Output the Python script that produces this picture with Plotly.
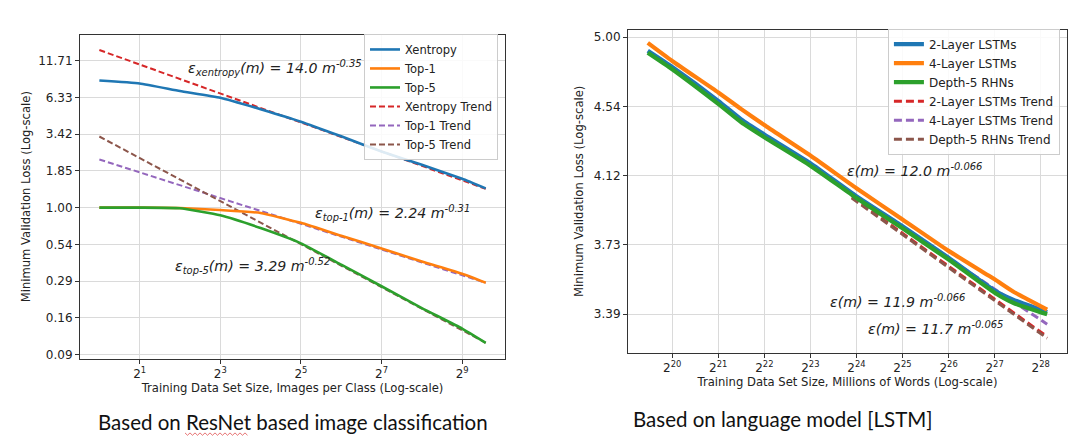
import plotly.graph_objects as go

# ---------------- Left chart (ResNet image classification) ----------------
img_per_class = [1, 2, 4, 8, 16, 32, 64, 128, 256, 512, 768]
xentropy = [8.4, 8.0, 7.05, 6.3, 5.2, 4.22, 3.3, 2.56, 2.05, 1.62, 1.38]
top1 = [1.0, 1.0, 0.995, 0.96, 0.915, 0.775, 0.625, 0.505, 0.405, 0.33, 0.284]
top5 = [1.0, 1.0, 0.99, 0.88, 0.71, 0.55, 0.385, 0.268, 0.186, 0.132, 0.104]
trend_x_left = [1, 768]
xent_trend = [14.0, 1.37]
top1_trend = [2.24, 0.284]
top5_trend = [3.29, 0.104]

left_xtick_vals = [2, 8, 32, 128, 512]
left_xtick_text = ["2<sup>1</sup>", "2<sup>3</sup>", "2<sup>5</sup>", "2<sup>7</sup>", "2<sup>9</sup>"]
left_ytick_vals = [11.71, 6.33, 3.42, 1.849, 1.0, 0.5405, 0.2922, 0.158, 0.0854]
left_ytick_text = ["11.71", "6.33", "3.42", "1.85", "1.00", "0.54", "0.29", "0.16", "0.09"]

# ---------------- Right chart (LSTM language model) ----------------
words_log2 = [19.47, 20, 21, 21.5, 22, 23, 24, 25, 26, 27, 27.4, 28.14]
words = [2 ** e for e in words_log2]
lstm2 = [4.905, 4.795, 4.573, 4.455, 4.362, 4.19, 4.0, 3.835, 3.67, 3.505, 3.46, 3.40]
lstm4 = [4.96, 4.836, 4.627, 4.52, 4.42, 4.235, 4.045, 3.872, 3.705, 3.56, 3.50, 3.412]
rhn5 = [4.892, 4.78, 4.553, 4.437, 4.345, 4.175, 3.99, 3.824, 3.66, 3.494, 3.445, 3.39]
trend_x_right = [2 ** 23.9, words[-1]]
lstm2_trend = [3.995, 3.285]
lstm4_trend = [4.015, 3.343]
rhn5_trend = [3.99, 3.278]

right_xtick_vals = [2 ** e for e in range(20, 29)]
right_xtick_text = ["2<sup>%d</sup>" % e for e in range(20, 29)]
right_ytick_vals = [5.0, 4.537, 4.117, 3.736, 3.390]
right_ytick_text = ["5.00", "4.54", "4.12", "3.73", "3.39"]

C_BLUE, C_ORANGE, C_GREEN = "#1f77b4", "#ff7f0e", "#2ca02c"
C_RED, C_PURPLE, C_BROWN = "#d62728", "#9467bd", "#8c564b"
FONT = "DejaVu Sans"

fig = go.Figure()

# left trends (drawn beneath the solid curves)
for name, vals, col, rank in [("Xentropy Trend", xent_trend, C_RED, 4),
                              ("Top-1 Trend", top1_trend, C_PURPLE, 5),
                              ("Top-5 Trend", top5_trend, C_BROWN, 6)]:
    fig.add_trace(go.Scatter(x=trend_x_left, y=vals, mode="lines", name=name,
                             line=dict(color=col, width=2, dash="6px,3px"),
                             xaxis="x", yaxis="y", legend="legend", legendrank=rank))
for name, vals, col, rank in [("Xentropy", xentropy, C_BLUE, 1),
                              ("Top-1", top1, C_ORANGE, 2),
                              ("Top-5", top5, C_GREEN, 3)]:
    fig.add_trace(go.Scatter(x=img_per_class, y=vals, mode="lines", name=name,
                             line=dict(color=col, width=2.6, shape="spline", smoothing=0.4),
                             xaxis="x", yaxis="y", legend="legend", legendrank=rank))

# right trends
for name, vals, col, rank in [("2-Layer LSTMs Trend", lstm2_trend, C_RED, 4),
                              ("4-Layer LSTMs Trend", lstm4_trend, C_PURPLE, 5),
                              ("Depth-5 RHNs Trend", rhn5_trend, C_BROWN, 6)]:
    fig.add_trace(go.Scatter(x=trend_x_right, y=vals, mode="lines", name=name,
                             line=dict(color=col, width=3, dash="8px,4px"),
                             xaxis="x2", yaxis="y2", legend="legend2", legendrank=rank))
for name, vals, col, rank in [("2-Layer LSTMs", lstm2, C_BLUE, 1),
                              ("4-Layer LSTMs", lstm4, C_ORANGE, 2),
                              ("Depth-5 RHNs", rhn5, C_GREEN, 3)]:
    fig.add_trace(go.Scatter(x=words, y=vals, mode="lines", name=name,
                             line=dict(color=col, width=4.2, shape="spline", smoothing=0.5),
                             xaxis="x2", yaxis="y2", legend="legend2", legendrank=rank))

axis_common = dict(type="log", showgrid=True, gridcolor="#dadada", gridwidth=1,
                   showline=True, mirror=True, linecolor="#333333", linewidth=1.2,
                   ticks="outside", ticklen=4, tickcolor="#333333",
                   tickfont=dict(family=FONT, size=12, color="#222222"),
                   zeroline=False)
title_font = dict(family=FONT, size=11.6, color="#222222")

fig.update_layout(
    width=1080, height=443,
    margin=dict(l=0, r=0, t=0, b=0),
    paper_bgcolor="white", plot_bgcolor="white",
    showlegend=True,
    xaxis=dict(axis_common, domain=[0.0667, 0.4602], range=[-0.1443, 3.0295],
               tickvals=left_xtick_vals, ticktext=left_xtick_text,
               title=dict(text="Training Data Set Size, Images per Class (Log-scale)",
                          font=title_font, standoff=3)),
    yaxis=dict(axis_common, domain=[0.2032, 0.9391], range=[-1.0979, 1.2569],
               tickvals=left_ytick_vals, ticktext=left_ytick_text,
               title=dict(text="Minimum Validation Loss (Log-scale)",
                          font=title_font, standoff=5)),
    xaxis2=dict(axis_common, domain=[0.5741, 0.9806], range=[5.732, 8.601], anchor="y2",
                tickvals=right_xtick_vals, ticktext=right_xtick_text,
                title=dict(text="Training Data Set Size, Millions of Words (Log-scale)",
                           font=title_font, standoff=3)),
    yaxis2=dict(axis_common, domain=[0.2167, 0.9503], range=[0.5068, 0.7034], anchor="x2",
                tickvals=right_ytick_vals, ticktext=right_ytick_text,
                title=dict(text="Minimum Validation Loss (Log-scale)",
                           font=title_font, standoff=7)),
    legend=dict(x=0.4537, y=0.941, xanchor="right", yanchor="top",
                bgcolor="rgba(255,255,255,0.85)", bordercolor="#cccccc", borderwidth=1,
                font=dict(family=FONT, size=11.5, color="#222222"), itemwidth=30,
                tracegroupgap=0),
    legend2=dict(x=0.974, y=0.953, xanchor="right", yanchor="top",
                 bgcolor="rgba(255,255,255,0.85)", bordercolor="#cccccc", borderwidth=1,
                 font=dict(family=FONT, size=12, color="#222222"), itemwidth=30,
                 tracegroupgap=0),
)

ann_font = dict(family=FONT, size=14.2, color="#222222")
annots = [
    (178, 60, "<i>ε<sub>xentropy</sub>(m) = 14.0 m<sup>-0.35</sup></i>"),
    (305, 206, "<i>ε<sub>top-1</sub>(m) = 2.24 m<sup>-0.31</sup></i>"),
    (165, 260, "<i>ε<sub>top-5</sub>(m) = 3.29 m<sup>-0.52</sup></i>"),
    (837, 163, "<i>ε(m) = 12.0 m<sup>-0.066</sup></i>"),
    (820, 295, "<i>ε(m) = 11.9 m<sup>-0.066</sup></i>"),
    (858, 322, "<i>ε(m) = 11.7 m<sup>-0.065</sup></i>"),
]
for px, py, txt in annots:
    fig.add_annotation(x=px / 1080, y=1 - py / 443, xref="paper", yref="paper",
                       text=txt, showarrow=False, xanchor="left", yanchor="middle",
                       font=ann_font)

cap_font = dict(family="Lato", size=20.5, color="#111111")
fig.add_annotation(x=284.5 / 1080, y=1 - 417 / 443, xref="paper", yref="paper",
                   text="Based on ResNet based image classification", showarrow=False,
                   xanchor="center", yanchor="middle", font=cap_font)
fig.add_annotation(x=623 / 1080, y=1 - 414 / 443, xref="paper", yref="paper",
                   text="Based on language model [LSTM]", showarrow=False,
                   xanchor="left", yanchor="middle", font=cap_font)

# spell-check squiggle under "ResNet"
pts = []
px = 177.0
k = 0
while px <= 240:
    pts.append((px / 1080, 1 - (429 + (1.2 if k % 2 else -1.2)) / 443))
    px += 2.5
    k += 1
path = "M " + " L ".join("%.5f,%.5f" % p for p in pts)
fig.add_shape(type="path", path=path, xref="paper", yref="paper",
              line=dict(color="#e05050", width=0.8))

fig.write_html("out.html")
